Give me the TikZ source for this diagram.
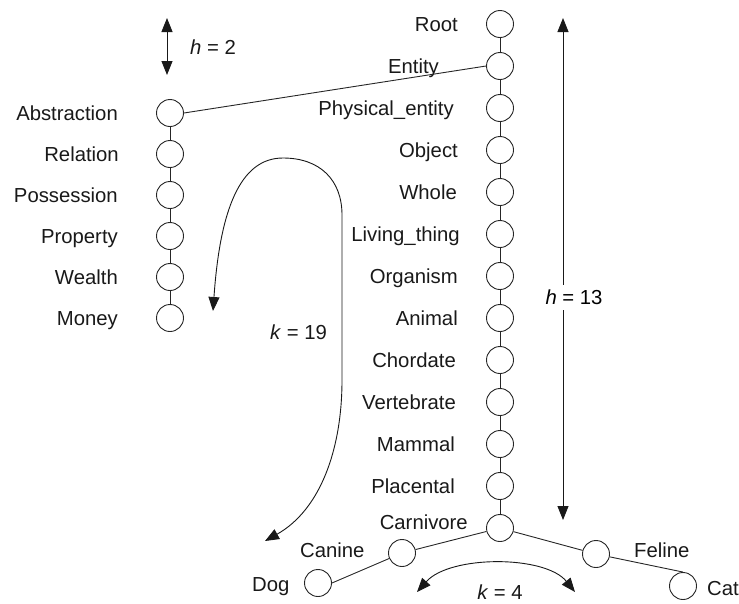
\documentclass[tikz,border=0pt]{standalone}
\usepackage{fontspec}
\setmainfont{Liberation Sans}
\usetikzlibrary{arrows.meta}
\begin{document}
\begin{tikzpicture}[x=1pt,y=-1pt,
  circ/.style={circle,draw=black!85,fill=white,minimum size=27pt,inner sep=0pt,line width=0.9pt},
  lab/.style={anchor=base east,inner sep=0pt,font=\fontsize{20.3}{24}\selectfont,text=black!90},
  labw/.style={anchor=base west,inner sep=0pt,font=\fontsize{20.3}{24}\selectfont,text=black!90},
  labc/.style={anchor=base,inner sep=0pt,font=\fontsize{20.3}{24}\selectfont,text=black!90},
  conn/.style={line width=0.9pt,draw=black!85},
  dimarrow/.style={line width=0.9pt,draw=black!90,{Triangle[length=14pt,width=11pt]}-{Triangle[length=14pt,width=11pt]}},
]
\useasboundingbox (0,0) rectangle (739,603);

% main column
\node[circ] (root) at (500,24) {};
\node[circ] (entity) at (500,66) {};
\node[circ] (phys) at (500,108) {};
\node[circ] (object) at (500,150) {};
\node[circ] (whole) at (500,192) {};
\node[circ] (living) at (500,234) {};
\node[circ] (organism) at (500,276) {};
\node[circ] (animal) at (500,318) {};
\node[circ] (chordate) at (500,360) {};
\node[circ] (vertebrate) at (500,402) {};
\node[circ] (mammal) at (500,444) {};
\node[circ] (placental) at (500,486) {};
\node[circ] (carnivore) at (500,528) {};
\node[circ] (canine) at (402,553) {};
\node[circ] (dog) at (318,583) {};
\node[circ] (feline) at (596,554) {};
\node[circ] (cat) at (683,586) {};

% left column
\node[circ] (abstraction) at (170,113) {};
\node[circ] (relation) at (170,154) {};
\node[circ] (possession) at (170,195) {};
\node[circ] (property) at (170,236) {};
\node[circ] (wealth) at (170,277) {};
\node[circ] (money) at (170,318) {};

% labels main column
\node[lab] (lroot) at (458,31.5) {Root};
\node[lab] (lentity) at (439,73.5) {Entity};
\node[lab] (lphys) at (454,115.5) {Physical\_entity};
\node[lab] (lobject) at (458,157.5) {Object};
\node[lab] (lwhole) at (457,199.5) {Whole};
\node[lab] (lliving) at (460,241.5) {Living\_thing};
\node[lab] (lorganism) at (458,283.5) {Organism};
\node[lab] (lanimal) at (458,325.5) {Animal};
\node[lab] (lchordate) at (456,367.5) {Chordate};
\node[lab] (lvertebrate) at (456,409.5) {Vertebrate};
\node[lab] (lmammal) at (455,451.5) {Mammal};
\node[lab] (lplacental) at (455,493.5) {Placental};
\node[lab] (lcarnivore) at (468,529.5) {Carnivore};
\node[labw] (lcanine) at (300,557.5) {Canine};
\node[labw] (ldog) at (252,591) {Dog};
\node[labw] (lfeline) at (634,557) {Feline};
\node[labw] (lcat) at (707,595) {Cat};

% labels left column
\node[lab] (labstraction) at (118,120.5) {Abstraction};
\node[lab] (lrelation) at (119,161.5) {Relation};
\node[lab] (lpossession) at (118,202.5) {Possession};
\node[lab] (lproperty) at (118,243.5) {Property};
\node[lab] (lwealth) at (118,284.5) {Wealth};
\node[lab] (lmoney) at (118,325.5) {Money};

% connectors
\draw[conn] (root) -- (entity) -- (phys) -- (object) -- (whole) -- (living)
  -- (organism) -- (animal) -- (chordate) -- (vertebrate) -- (mammal)
  -- (placental) -- (carnivore);
\draw[conn] (carnivore) -- (canine);
\draw[conn] (canine) -- (dog.east);
\draw[conn] (carnivore) -- (feline);
\draw[conn] (feline) -- (cat.north);
\draw[conn] (abstraction) -- (relation) -- (possession) -- (property) -- (wealth) -- (money);
\draw[conn] (abstraction.east) -- (entity.west);

% h = 2
\coordinate (h2a) at (167,18);
\coordinate (h2b) at (167,75);
\draw[dimarrow] (h2a) -- (h2b);
\node[labw] (lh2) at (190,54) {\textit{h} = 2};

% h = 13
\coordinate (h13a) at (563,18);
\coordinate (h13b) at (563,520);
\draw[dimarrow] (h13a) -- (h13b);
\node[fill=white,inner sep=0pt,minimum height=25pt,font=\fontsize{20.3}{24}\selectfont] (lh13) at (574,297) {\textit{h} = 13};

% k = 19
\coordinate (k19a) at (213,311);
\coordinate (k19b) at (265,541);
\draw[dimarrow] (k19a) .. controls (220,210) and (240,158) .. (283,158)
  .. controls (320,158) and (342,180) .. (342,215) -- (342,380)
  .. controls (342,450) and (320,510) .. (k19b);
\node[labc] (lk19) at (298.5,339.5) {\textit{k} = 19};

% k = 4
\coordinate (k4a) at (417,592);
\coordinate (k4b) at (575,592);
\draw[dimarrow] (k4a) .. controls (450,555) and (545,555) .. (k4b);
\node[labc] (lk4) at (500,599) {\textit{k} = 4};
\end{tikzpicture}
\end{document}
